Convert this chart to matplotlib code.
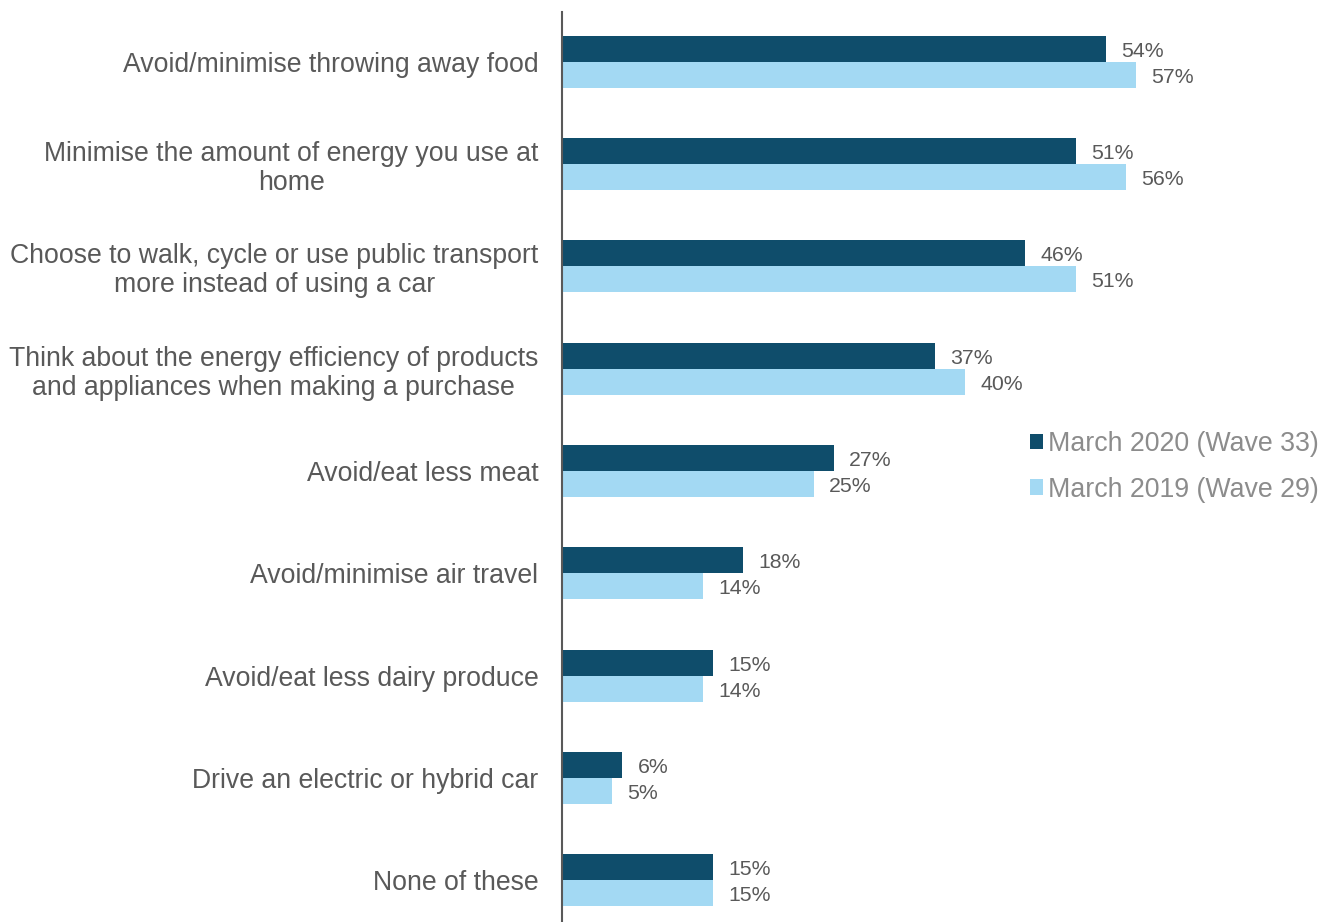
import matplotlib
matplotlib.use("Agg")
import matplotlib.pyplot as plt
import numpy as np

plt.rcParams['font.family'] = ['Liberation Sans', 'DejaVu Sans']

categories = [
    "Avoid/minimise throwing away food",
    "Minimise the amount of energy you use at\nhome",
    "Choose to walk, cycle or use public transport\nmore instead of using a car",
    "Think about the energy efficiency of products\nand appliances when making a purchase",
    "Avoid/eat less meat",
    "Avoid/minimise air travel",
    "Avoid/eat less dairy produce",
    "Drive an electric or hybrid car",
    "None of these",
]
wave33 = [54, 51, 46, 37, 27, 18, 15, 6, 15]
wave29 = [57, 56, 51, 40, 25, 14, 14, 5, 15]
series_names = ["March 2020 (Wave 33)", "March 2019 (Wave 29)"]

dark = "#0F4D6B"
light = "#A3D9F3"
text_col = "#595959"

W, H = 1333, 922
fig = plt.figure(figsize=(W / 100, H / 100), dpi=100)
ax = fig.add_axes([562 / W, 0, 1 - 562 / W, 1 - 12 / H])

y = np.arange(len(categories))
bh = 0.254
b1 = ax.barh(y - bh / 2, wave33, height=bh, color=dark, label=series_names[0])
b2 = ax.barh(y + bh / 2, wave29, height=bh, color=light, label=series_names[1])

for bars, vals in ((b1, wave33), (b2, wave29)):
    for rect, v in zip(bars, vals):
        ax.annotate(f"{v}%", (v, rect.get_y() + rect.get_height() / 2),
                    xytext=(11, -1.8), textcoords="offset points",
                    ha="left", va="center", fontsize=15.3, color=text_col)

ax.set_xlim(0, 771 / 10.07)
ax.set_ylim(8 + 42 / 102.4, -50 / 102.4)
ax.set_yticks(y)
ax.set_yticklabels(categories, fontsize=19.2, color=text_col,
                   multialignment="center", linespacing=1.15)
ax.tick_params(axis="y", length=0, pad=17)
ax.set_xticks([])
for s in ("top", "right", "bottom"):
    ax.spines[s].set_visible(False)
ax.spines["left"].set_color("#595959")
ax.spines["left"].set_linewidth(1.5)

leg = fig.legend(handles=[b1, b2], loc="upper left",
                 bbox_to_anchor=(1030 / W, 1 - 431 / H),
                 frameon=False, fontsize=19.3, handlelength=0.5, handleheight=0.5,
                 handletextpad=0.19, labelspacing=0.73, borderpad=0, borderaxespad=0)
for t in leg.get_texts():
    t.set_color("#8C8C8C")

fig.savefig("out.png", dpi=100)
